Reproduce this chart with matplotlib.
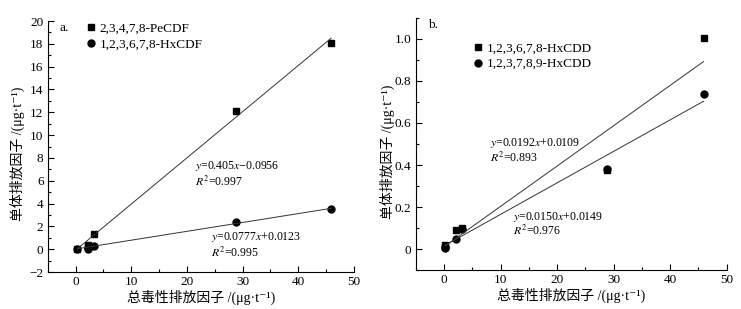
import matplotlib.pyplot as plt
import numpy as np

plt.rcParams['font.family'] = ['Liberation Serif', 'Noto Sans CJK SC', 'DejaVu Sans']
plt.rcParams['mathtext.fontset'] = 'stix'
plt.rcParams['font.size'] = 9.5

# panel a: total toxic emission factor vs congener emission factor
xa = [0.3, 2.2, 2.2, 3.3, 28.9, 45.9]
pecdf = [0.05, 0.15, 0.4, 1.3, 12.1, 18.1]
hxcdf = [0.0, 0.05, 0.1, 0.3, 2.4, 3.5]
fit_a = [(0.405, -0.0956), (0.0777, 0.0123)]

# panel b
xb = [0.2, 0.2, 2.1, 3.2, 28.9, 45.9]
hxcdd1 = [0.02, 0.01, 0.09, 0.1, 0.375, 1.005]
hxcdd2 = [0.01, 0.005, 0.05, 0.095, 0.382, 0.74]
fit_b = [(0.0192, 0.0109), (0.0150, 0.0149)]

xlab = '总毒性排放因子 /(μg·t⁻¹)'
ylab = '单体排放因子 /(μg·t⁻¹)'
eq_fs = 8.5

fig = plt.figure(figsize=(7.41, 3.09), dpi=100)
ax1 = fig.add_axes([0.0644, 0.1197, 0.4133, 0.8123])
ax2 = fig.add_axes([0.561, 0.126, 0.4197, 0.816])


def style(ax, ylx):
    ax.spines['top'].set_visible(False)
    ax.spines['right'].set_visible(False)
    ax.tick_params(which='both', direction='in', width=0.8, pad=3)
    ax.tick_params(which='major', length=4)
    ax.tick_params(which='minor', length=2.5)
    ax.set_xlim(-5, 50)
    ax.set_xticks([0, 10, 20, 30, 40, 50])
    ax.set_xticks(np.arange(-5, 51, 5), minor=True)
    ax.set_xlabel(xlab, fontsize=10, va='center')
    ax.set_ylabel(ylab, fontsize=10, va='center')
    ax.xaxis.set_label_coords(0.5, -0.1)
    ax.yaxis.set_label_coords(ylx, 0.47)


# panel a
style(ax1, -0.1)
ax1.set_ylim(-2, 20)
ax1.set_yticks(np.arange(-2, 21, 2))
ax1.set_yticklabels(['\u22122'] + [str(v) for v in range(0, 21, 2)])
ax1.set_yticks(np.arange(-2, 20.1, 1), minor=True)
ax1.plot(xa, pecdf, 's', color='black', ms=5, label='2,3,4,7,8-PeCDF')
ax1.plot(xa, hxcdf, 'o', color='black', ms=5, label='1,2,3,6,7,8-HxCDF')
xx = np.array([0.3, 45.9])
for k, b in fit_a:
    ax1.plot(xx, k * xx + b, color='#333333', lw=0.7)
ax1.text(21.4, 7.0, '$y$=0.405$x$\u22120.0956', fontsize=eq_fs)
ax1.text(21.4, 5.5, '$R^2$=0.997', fontsize=eq_fs)
ax1.text(24.4, 0.8, '$y$=0.0777$x$+0.0123', fontsize=eq_fs)
ax1.text(24.4, -0.7, '$R^2$=0.995', fontsize=eq_fs)
ax1.text(0.04, 0.995, 'a.', transform=ax1.transAxes, va='top')
ax1.legend(loc='upper left', bbox_to_anchor=(0.08, 1.04), frameon=False,
           handletextpad=0.2, labelspacing=0.25, handlelength=1.0)

# panel b
style(ax2, -0.092)
ax2.set_ylim(-0.1, 1.1)
ax2.set_yticks([0, 0.2, 0.4, 0.6, 0.8, 1.0])
ax2.set_yticklabels(['0', '0.2', '0.4', '0.6', '0.8', '1.0'])
ax2.set_yticks(np.arange(-0.1, 1.11, 0.1), minor=True)
ax2.plot(xb, hxcdd1, 's', color='black', ms=5, label='1,2,3,6,7,8-HxCDD')
ax2.plot(xb, hxcdd2, 'o', color='black', ms=5, label='1,2,3,7,8,9-HxCDD')
xx = np.array([0.2, 45.9])
for k, b in fit_b:
    ax2.plot(xx, k * xx + b, color='#333333', lw=0.7)
ax2.text(8.1, 0.49, '$y$=0.0192$x$+0.0109', fontsize=eq_fs)
ax2.text(8.1, 0.415, '$R^2$=0.893', fontsize=eq_fs)
ax2.text(12.2, 0.14, '$y$=0.0150$x$+0.0149', fontsize=eq_fs)
ax2.text(12.2, 0.065, '$R^2$=0.976', fontsize=eq_fs)
ax2.text(0.04, 0.995, 'b.', transform=ax2.transAxes, va='top')
ax2.legend(loc='upper left', bbox_to_anchor=(0.14, 0.95), frameon=False,
           handletextpad=0.2, labelspacing=0.25, handlelength=1.0)

fig.savefig('out.png', dpi=100)
